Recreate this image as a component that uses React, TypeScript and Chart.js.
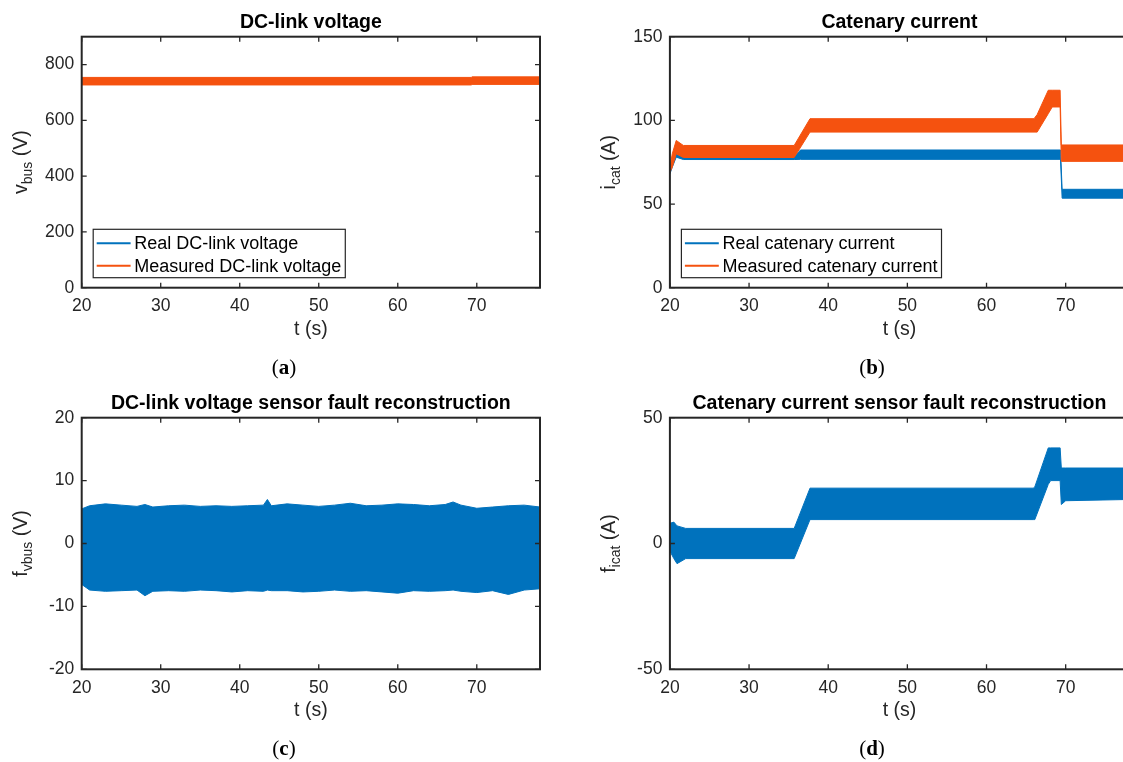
import React, { useEffect, useRef } from "react";
import { Chart, registerables } from "chart.js";
Chart.register(...registerables);

const BLUE = "#0072BD";
const ORANGE = "#F5520F";
const AXIS = "#262626";
const SANS = '"Liberation Sans", Arial, Helvetica, sans-serif';
const SERIF = '"Liberation Serif", "Times New Roman", serif';

// Common time axis
const T_MIN = 20;
const T_MAX = 78;
const T_STEP = 10;

// (a) DC-link voltage
const tVbus = [20, 69.3, 69.4, 78];
const vbusRealUpper = [748, 748, 748, 748];
const vbusRealLower = [741, 741, 741, 741];
const vbusMeasUpper = [754, 754, 756, 756];
const vbusMeasLower = [727, 727, 729, 729];

// (b) Catenary current
const tIcatMeas = [20, 20.3, 20.8, 21.7, 35.7, 37.7, 66.0, 66.4, 67.8, 68.3, 69.3, 69.45, 78];
const icatMeasUpper = [72, 80, 88, 85, 85, 101, 101, 103.5, 118, 118, 118, 85.3, 85.3];
const icatMeasLower = [69, 72, 80, 77.8, 77.8, 93, 93, 93, 104, 108, 108, 75.5, 75.5];
const tIcatReal = [20, 20.3, 20.8, 21.7, 35.7, 36.5, 69.35, 69.55, 78];
const icatRealUpper = [71, 76, 80.5, 78.2, 78.2, 82.3, 82.3, 58.8, 58.8];
const icatRealLower = [68, 72, 78, 76.6, 76.6, 76.7, 76.7, 53.5, 53.5];

// (c) DC-link voltage sensor fault reconstruction
const tFv = [20, 21, 23, 25, 27, 28, 29, 31, 33, 35, 37, 39, 41, 43, 43.5, 44, 46, 48, 50, 52, 54, 56, 58, 60, 62, 64, 66, 67, 68, 70, 72, 74, 76, 78];
const fvUpper = [5.5, 6.0, 6.3, 6.1, 5.9, 6.2, 5.8, 6.0, 6.1, 5.9, 6.0, 5.9, 6.0, 6.1, 7.0, 6.0, 6.3, 6.1, 5.9, 6.1, 6.4, 6.0, 6.1, 6.3, 6.2, 6.0, 6.2, 6.6, 6.1, 5.6, 5.8, 6.0, 6.1, 5.8];
const fvLower = [-6.5, -7.4, -7.6, -7.5, -7.4, -8.3, -7.6, -7.5, -7.6, -7.4, -7.5, -7.7, -7.5, -7.6, -7.4, -7.5, -7.5, -7.7, -7.6, -7.4, -7.6, -7.5, -7.7, -7.9, -7.5, -7.6, -7.5, -7.4, -7.6, -7.8, -7.5, -8.1, -7.4, -7.2];

// (d) Catenary current sensor fault reconstruction
const tFi = [20, 20.5, 20.9, 22, 35.7, 37.7, 65.9, 66.1, 67.8, 68.1, 69.3, 69.45, 70, 78];
const fiUpper = [8, 8.5, 7, 6, 6, 22, 22, 22.5, 38, 38, 38, 30, 30, 30];
const fiLower = [-3, -6, -8, -6, -6, 9.5, 9.5, 9.5, 23.5, 25, 25, 15.5, 17, 17.5];

type Band = { t: number[]; upper: number[]; lower: number[]; color: string };
type LegendItem = { label: string; color: string };
type Panel = {
  left: number;
  top: number;
  width: number;
  height: number;
  yAxisWidth: number;
  padRight: number;
  padTop: number;
  xAxisHeight: number;
  yMin: number;
  yMax: number;
  yStep: number;
  title: string;
  yLabel: [string, string, string];
  caption: string;
  captionX: number;
  bands: Band[];
  legend?: LegendItem[];
};

const panels: Panel[] = [
  {
    left: 0, top: 0, width: 560, height: 381,
    yAxisWidth: 81.7, padRight: 20, padTop: 36.7, xAxisHeight: 93.3,
    yMin: 0, yMax: 900, yStep: 200,
    title: "DC-link voltage", yLabel: ["v", "bus", " (V)"], caption: "a", captionX: 284,
    bands: [
      { t: tVbus, upper: vbusMeasUpper, lower: vbusMeasLower, color: ORANGE },
      { t: tVbus, upper: vbusRealUpper, lower: vbusRealLower, color: BLUE },
    ],
    legend: [
      { label: "Real DC-link voltage", color: BLUE },
      { label: "Measured DC-link voltage", color: ORANGE },
    ],
  },
  {
    left: 560, top: 0, width: 600, height: 381,
    yAxisWidth: 109.9, padRight: 31, padTop: 36.7, xAxisHeight: 93.3,
    yMin: 0, yMax: 150, yStep: 50,
    title: "Catenary current", yLabel: ["i", "cat", " (A)"], caption: "b", captionX: 312,
    bands: [
      { t: tIcatMeas, upper: icatMeasUpper, lower: icatMeasLower, color: ORANGE },
      { t: tIcatReal, upper: icatRealUpper, lower: icatRealLower, color: BLUE },
    ],
    legend: [
      { label: "Real catenary current", color: BLUE },
      { label: "Measured catenary current", color: ORANGE },
    ],
  },
  {
    left: 0, top: 381, width: 560, height: 381,
    yAxisWidth: 81.7, padRight: 20, padTop: 36.7, xAxisHeight: 92.7,
    yMin: -20, yMax: 20, yStep: 10,
    title: "DC-link voltage sensor fault reconstruction", yLabel: ["f", "vbus", " (V)"], caption: "c", captionX: 284,
    bands: [{ t: tFv, upper: fvUpper, lower: fvLower, color: BLUE }],
  },
  {
    left: 560, top: 381, width: 600, height: 381,
    yAxisWidth: 109.9, padRight: 31, padTop: 36.7, xAxisHeight: 92.7,
    yMin: -50, yMax: 50, yStep: 50,
    title: "Catenary current sensor fault reconstruction", yLabel: ["f", "icat", " (A)"], caption: "d", captionX: 312,
    bands: [{ t: tFi, upper: fiUpper, lower: fiLower, color: BLUE }],
  },
];

function makeDecor(p: Panel) {
  return {
    id: "decor",
    afterDatasetsDraw(chart: any) {
      const { ctx, chartArea: a, scales } = chart;
      const xs = scales.x;
      const ys = scales.y;
      const TL = 5;
      ctx.save();
      ctx.strokeStyle = AXIS;
      ctx.lineWidth = 1.3;
      ctx.beginPath();
      for (const tk of xs.ticks) {
        const px = xs.getPixelForValue(tk.value);
        ctx.moveTo(px, a.bottom);
        ctx.lineTo(px, a.bottom - TL);
        ctx.moveTo(px, a.top);
        ctx.lineTo(px, a.top + TL);
      }
      for (const tk of ys.ticks) {
        const py = ys.getPixelForValue(tk.value);
        ctx.moveTo(a.left, py);
        ctx.lineTo(a.left + TL, py);
        ctx.moveTo(a.right, py);
        ctx.lineTo(a.right - TL, py);
      }
      ctx.stroke();
      ctx.lineWidth = 2;
      ctx.strokeRect(a.left, a.top, a.right - a.left, a.bottom - a.top);

      if (p.legend) {
        ctx.font = `18px ${SANS}`;
        const tw = Math.max(...p.legend.map((it) => ctx.measureText(it.label).width));
        const bw = 41 + tw + 4;
        const bh = 48.4;
        const bx = a.left + 11.5;
        const by = a.bottom - 10 - bh;
        ctx.fillStyle = "#ffffff";
        ctx.fillRect(bx, by, bw, bh);
        ctx.strokeStyle = AXIS;
        ctx.lineWidth = 1.2;
        ctx.strokeRect(bx, by, bw, bh);
        p.legend.forEach((it, i) => {
          const cy = by + 14 + i * 22.4;
          ctx.strokeStyle = it.color;
          ctx.lineWidth = 2;
          ctx.beginPath();
          ctx.moveTo(bx + 3.5, cy);
          ctx.lineTo(bx + 37.4, cy);
          ctx.stroke();
          ctx.fillStyle = "#000000";
          ctx.textAlign = "left";
          ctx.textBaseline = "middle";
          ctx.fillText(it.label, bx + 41, cy + 1);
        });
      }
      ctx.restore();
    },
    afterDraw(chart: any) {
      const { ctx, chartArea: a } = chart;
      const cx = (a.left + a.right) / 2;
      ctx.save();
      ctx.fillStyle = "#000000";
      ctx.font = `bold 19.5px ${SANS}`;
      ctx.textAlign = "center";
      ctx.textBaseline = "alphabetic";
      ctx.fillText(p.title, cx, a.top - 8.4);
      ctx.fillStyle = AXIS;
      ctx.font = `19.5px ${SANS}`;
      ctx.fillText("t (s)", cx, a.bottom + 47);
      const [m, s, r] = p.yLabel;
      const fMain = `19.5px ${SANS}`;
      const fSub = `14px ${SANS}`;
      ctx.font = fMain;
      const wm = ctx.measureText(m).width;
      const wr = ctx.measureText(r).width;
      ctx.font = fSub;
      const ws = ctx.measureText(s).width;
      const total = wm + ws + wr;
      ctx.translate(a.left - 54.5, (a.top + a.bottom) / 2);
      ctx.rotate(-Math.PI / 2);
      ctx.textAlign = "left";
      const x0 = -total / 2;
      ctx.font = fMain;
      ctx.fillText(m, x0, 0);
      ctx.font = fSub;
      ctx.fillText(s, x0 + wm, 5);
      ctx.font = fMain;
      ctx.fillText(r, x0 + wm + ws, 0);
      ctx.restore();
      ctx.save();
      ctx.fillStyle = "#000000";
      ctx.textBaseline = "alphabetic";
      ctx.textAlign = "left";
      const fr = `21px ${SERIF}`;
      const fb = `bold 21px ${SERIF}`;
      ctx.font = fr;
      const w1 = ctx.measureText("(").width;
      const w3 = ctx.measureText(")").width;
      ctx.font = fb;
      const w2 = ctx.measureText(p.caption).width;
      const sx = p.captionX - (w1 + w2 + w3) / 2;
      const by = 373.5;
      ctx.font = fr;
      ctx.fillText("(", sx, by);
      ctx.font = fb;
      ctx.fillText(p.caption, sx + w1, by);
      ctx.font = fr;
      ctx.fillText(")", sx + w1 + w2, by);
      ctx.restore();
    },
  };
}

function buildDatasets(p: Panel) {
  const ds: any[] = [];
  p.bands.forEach((b) => {
    ds.push({
      data: b.t.map((x, i) => ({ x, y: b.upper[i] })),
      borderColor: b.color,
      backgroundColor: b.color,
      borderWidth: 1,
      pointRadius: 0,
      fill: "+1",
    });
    ds.push({
      data: b.t.map((x, i) => ({ x, y: b.lower[i] })),
      borderColor: b.color,
      backgroundColor: b.color,
      borderWidth: 1,
      pointRadius: 0,
      fill: false,
    });
  });
  return ds;
}

function PanelChart({ p }: { p: Panel }) {
  const ref = useRef<HTMLCanvasElement>(null);
  useEffect(() => {
    if (!ref.current) return;
    const tickFont = { family: SANS, size: 17.5 };
    const chart = new Chart(ref.current, {
      type: "line",
      data: { datasets: buildDatasets(p) },
      plugins: [makeDecor(p) as any],
      options: {
        animation: false,
        responsive: false,
        maintainAspectRatio: false,
        devicePixelRatio: 1,
        layout: { padding: { top: p.padTop, right: p.padRight, bottom: 0, left: 0 } },
        plugins: {
          legend: { display: false },
          tooltip: { enabled: false },
          title: { display: false },
        },
        elements: { line: { tension: 0 }, point: { radius: 0 } },
        scales: {
          x: {
            type: "linear",
            min: T_MIN,
            max: T_MAX,
            afterFit: (s: any) => {
              s.height = p.xAxisHeight;
            },
            grid: { display: false, drawTicks: false },
            border: { display: false },
            ticks: {
              stepSize: T_STEP,
              includeBounds: false,
              autoSkip: false,
              maxRotation: 0,
              padding: 8,
              color: AXIS,
              font: tickFont,
            },
          },
          y: {
            type: "linear",
            min: p.yMin,
            max: p.yMax,
            afterFit: (s: any) => {
              s.width = p.yAxisWidth;
            },
            grid: { display: false, drawTicks: false },
            border: { display: false },
            ticks: {
              stepSize: p.yStep,
              includeBounds: false,
              autoSkip: false,
              padding: 7.5,
              color: AXIS,
              font: tickFont,
            },
          },
        },
      } as any,
    });
    return () => chart.destroy();
  }, [p]);
  return (
    <canvas
      ref={ref}
      width={p.width}
      height={p.height}
      style={{ position: "absolute", left: p.left, top: p.top, width: p.width, height: p.height }}
    />
  );
}

export default function App() {
  return (
    <div
      style={{
        position: "fixed",
        left: 0,
        top: 0,
        width: 1123,
        height: 762,
        overflow: "hidden",
        background: "#ffffff",
      }}
    >
      {panels.map((p, i) => (
        <PanelChart key={i} p={p} />
      ))}
    </div>
  );
}
